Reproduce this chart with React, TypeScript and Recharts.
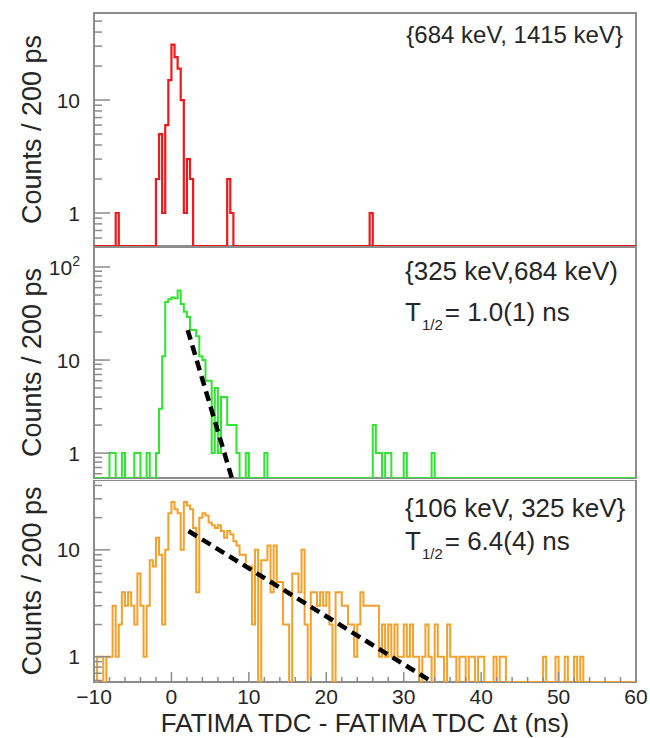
// Three stacked FATIMA timing spectra (log y), ROOT-style step histograms
// with exponential fits drawn as dashed lines.
import React from "react";
import { ComposedChart, Line, XAxis, YAxis, ReferenceArea } from "recharts";

const FONT = '"Liberation Sans", Arial, Helvetica, sans-serif';
const INK = "#262626";
const FRAME = "#8c8c8c";

const X_MIN = -10;
const X_MAX = 60;
const BIN = 0.4; // ns
const X_TM = 10; // tick margin used to recover frame edge in custom ticks
const Y_TM = 14;

const xTicks = Array.from({ length: 36 }, (_, i) => X_MIN + 2 * i);

// {684 keV, 1415 keV}
const redBins = [-7.2, -2.0, -1.6, -1.2, -0.8, -0.4, 0.0, 0.4, 0.8, 1.2, 1.6, 2.0, 2.4, 7.2, 7.6, 25.6];
const redCounts = [1, 2, 5, 1, 6, 15, 31, 24, 19, 10, 1, 3, 2, 2, 1, 1];
const redDomain: [number, number] = [0.51, 59];

// {325 keV, 684 keV}
const greenBins = [
  -8.0, -7.6, -6.4, -4.8, -4.4, -3.2, -2.0,
  -1.6, -1.2, -0.8, -0.4, 0.0, 0.4, 0.8, 1.2, 1.6, 2.0,
  2.4, 2.8, 3.2, 3.6, 4.0, 4.4, 4.8, 5.2, 5.6, 6.0,
  6.4, 6.8, 7.2, 7.6, 8.0, 8.4, 9.6, 12.0,
  26.0, 26.4, 26.8, 27.6, 28.0, 30.0, 33.6,
];
const greenCounts = [
  1, 1, 1, 1, 1, 1, 1,
  3, 11, 42, 45, 47, 46, 56, 40, 33, 29,
  21, 21, 18, 11, 10, 6, 6, 1, 5, 1,
  4, 4, 2, 2, 2, 1, 1, 1,
  2, 1, 1, 1, 1, 1, 1,
];
const greenDomain: [number, number] = [0.54, 164];
const greenFitX = [2.1, 7.8];
const greenFitY = [21, 0.54];

// {106 keV, 325 keV}: dense counts, bins of 0.4 ns starting at -10 ns
const orangeCounts = [
  0, 1, 1, 0, 1, 1, 3, 1, 2, 4, // -10.0 .. -6.4
  3, 4, 3, 2, 6, 3, 1, 3, 8, 7, // -6.0 .. -2.4
  13, 9, 2, 10, 22, 28, 24, 22, 10, 28, // -2.0 .. 1.6
  26, 24, 16, 4, 20, 22, 21, 18, 17, 16, // 2.0 .. 5.6
  17, 15, 13, 15, 14, 12, 11, 9, 9, 7, // 6.0 .. 9.6
  7, 2, 10, 0, 8, 8, 11, 4, 11, 5, // 10.0 .. 13.6
  5, 2, 2, 0, 6, 6, 4, 10, 2, 0, // 14.0 .. 17.6
  4, 4, 3, 4, 3, 4, 2, 0, 4, 4, // 18.0 .. 21.6
  3, 3, 2, 2, 1, 2, 4, 3, 3, 3, // 22.0 .. 25.6
  3, 3, 1, 2, 1, 2, 1, 2, 1, 1, // 26.0 .. 29.6
  2, 1, 2, 1, 1, 0, 1, 2, 1, 0, // 30.0 .. 33.6
  2, 1, 1, 0, 2, 1, 1, 0, 1, 1, // 34.0 .. 37.6
  0, 1, 1, 0, 1, 1, 0, 0, 0, 1, // 38.0 .. 41.6
  0, 1, 1, 0, 0, 0, 0, 0, 0, 0, // 42.0 .. 45.6
  0, 0, 0, 0, 0, 1, 0, 0, 0, 1, // 46.0 .. 49.6
  0, 0, 1, 0, 0, 1, 0, 1, 0, 0, // 50.0 .. 53.6
];
const orangeDomain: [number, number] = [0.58, 45];
const orangeFitX = [2.2, 33.7];
const orangeFitY = [15, 0.58];

type Pt = { x: number; y: number };

// step-histogram points at bin edges; empty bins sit on the frame floor
function histo(counts: Map<number, number>, floor: number): Pt[] {
  const n = Math.round((X_MAX - X_MIN) / BIN);
  const pts: Pt[] = [];
  for (let k = 0; k <= n; k++) {
    const c = counts.get(Math.min(k, n - 1)) ?? 0;
    pts.push({ x: X_MIN + k * BIN, y: c > 0 ? c : floor });
  }
  return pts;
}

const sparse = (bins: number[], counts: number[]) =>
  new Map(bins.map((b, i) => [Math.round((b - X_MIN) / BIN), counts[i]] as [number, number]));
const dense = (counts: number[]) => new Map(counts.map((c, i) => [i, c] as [number, number]));
const pairs = (xs: number[], ys: number[]): Pt[] => xs.map((x, i) => ({ x, y: ys[i] }));

function logTicks([lo, hi]: [number, number]) {
  const out: number[] = [];
  for (let e = -1; e <= 3; e++)
    for (let m = 1; m <= 9; m++) {
      const v = m * Math.pow(10, e);
      if (v >= lo && v <= hi) out.push(v);
    }
  return out;
}

const YTick = ({ x, y, payload }: any) => {
  const v = payload.value;
  const lg = Math.log10(v);
  const major = Math.abs(lg - Math.round(lg)) < 1e-6;
  const x0 = x + Y_TM;
  return (
    <g>
      <line x1={x0} x2={x0 + (major ? 16 : 8)} y1={y} y2={y} stroke={FRAME} strokeWidth={1.5} />
      {major && (
        <text x={x} y={y} dy="0.36em" textAnchor="end" fontSize={21} fill={INK} fontFamily={FONT}>
          {v >= 100 ? (
            <>
              10<tspan dy="-0.6em" fontSize={14}>{Math.round(lg)}</tspan>
            </>
          ) : (
            String(Math.round(v))
          )}
        </text>
      )}
    </g>
  );
};

const XTick = ({ x, y, payload, showLabel }: any) => {
  const v = payload.value;
  const major = v % 10 === 0;
  const y0 = y - X_TM;
  return (
    <g>
      <line x1={x} x2={x} y1={y0} y2={y0 - (major ? 10 : 5)} stroke={FRAME} strokeWidth={1.5} />
      {showLabel && major && (
        <text x={x} y={y0 + 22} textAnchor="middle" fontSize={21} fill={INK} fontFamily={FONT}>
          {v < 0 ? "\u2212" + Math.abs(v) : String(v)}
        </text>
      )}
    </g>
  );
};

type PanelProps = {
  top: number;
  height: number;
  plotTop: number;
  plotHeight: number;
  domain: [number, number];
  color: string;
  width: number;
  hist: Pt[];
  fit?: Pt[];
  showX?: boolean;
};

function Panel(p: PanelProps) {
  const xAxisH = p.showX ? 50 : 0;
  const bottom = p.height - p.plotTop - p.plotHeight - xAxisH;
  const cy = p.plotTop + p.plotHeight / 2;
  return (
    <div style={{ position: "absolute", left: 0, top: p.top }}>
      <ComposedChart width={650} height={p.height} margin={{ top: p.plotTop, right: 14, bottom, left: 0 }}>
        <XAxis
          dataKey="x"
          type="number"
          domain={[X_MIN, X_MAX]}
          allowDataOverflow
          ticks={xTicks}
          interval={0}
          height={xAxisH}
          tickSize={0}
          tickMargin={X_TM}
          axisLine={false}
          tickLine={false}
          tick={(t: any) => <XTick {...t} showLabel={p.showX} />}
          label={
            p.showX
              ? {
                  content: () => (
                    <text x={365} y={p.plotTop + p.plotHeight + 50} textAnchor="middle" fontSize={26} fill={INK} fontFamily={FONT}>
                      FATIMA TDC - FATIMA TDC Δt (ns)
                    </text>
                  ),
                }
              : undefined
          }
        />
        <YAxis
          type="number"
          scale="log"
          domain={p.domain}
          allowDataOverflow
          ticks={logTicks(p.domain)}
          interval={0}
          width={94}
          tickSize={0}
          tickMargin={Y_TM}
          axisLine={false}
          tickLine={false}
          tick={(t: any) => <YTick {...t} />}
          label={{
            content: () => (
              <text
                x={41}
                y={cy}
                transform={`rotate(-90 41 ${cy})`}
                textAnchor="middle"
                fontSize={27}
                fill={INK}
                fontFamily={FONT}
              >
                Counts / 200 ps
              </text>
            ),
          }}
        />
        <ReferenceArea
          x1={X_MIN}
          x2={X_MAX}
          y1={p.domain[0]}
          y2={p.domain[1]}
          fill="none"
          stroke={FRAME}
          strokeWidth={2}
          ifOverflow="visible"
        />
        <Line
          data={p.hist}
          dataKey="y"
          type="stepAfter"
          stroke={p.color}
          strokeWidth={p.width}
          dot={false}
          isAnimationActive={false}
        />
        {p.fit && (
          <Line
            data={p.fit}
            dataKey="y"
            type="linear"
            stroke="#000"
            strokeWidth={4.5}
            strokeDasharray="10 6"
            dot={false}
            isAnimationActive={false}
          />
        )}
      </ComposedChart>
    </div>
  );
}

const note = (top: number, extra: React.CSSProperties): React.CSSProperties => ({
  position: "absolute",
  top,
  fontFamily: FONT,
  color: INK,
  fontSize: 26,
  lineHeight: "26px",
  whiteSpace: "nowrap",
  ...extra,
});

const Half = () => (
  <span style={{ fontSize: 15, position: "relative", top: 9, margin: "0 2px 0 1px" }}>1/2</span>
);

export default function App() {
  return (
    <div style={{ position: "absolute", left: 0, top: 0, width: 650, height: 738, background: "#fff", fontFamily: FONT }}>
      <Panel
        top={0}
        height={250}
        plotTop={13}
        plotHeight={233}
        domain={redDomain}
        color="#f01818"
        width={2.2}
        hist={histo(sparse(redBins, redCounts), redDomain[0])}
      />
      <Panel
        top={247}
        height={235}
        plotTop={0}
        plotHeight={231}
        domain={greenDomain}
        color="#2ee62e"
        width={2}
        hist={histo(sparse(greenBins, greenCounts), greenDomain[0])}
        fit={pairs(greenFitX, greenFitY)}
      />
      <Panel
        top={480}
        height={258}
        plotTop={0}
        plotHeight={202}
        domain={orangeDomain}
        color="#f5a02a"
        width={2}
        hist={histo(dense(orangeCounts), orangeDomain[0])}
        fit={pairs(orangeFitX, orangeFitY)}
        showX
      />
      <div style={note(23, { right: 27, fontSize: 24, lineHeight: "24px" })}>{"{684 keV, 1415 keV}"}</div>
      <div style={note(258, { left: 405 })}>{"{325 keV,684 keV)"}</div>
      <div style={note(299, { left: 405 })}>
        T<Half />= 1.0(1) ns
      </div>
      <div style={note(495, { left: 405 })}>{"{106 keV, 325 keV}"}</div>
      <div style={note(528, { left: 405 })}>
        T<Half />= 6.4(4) ns
      </div>
    </div>
  );
}
